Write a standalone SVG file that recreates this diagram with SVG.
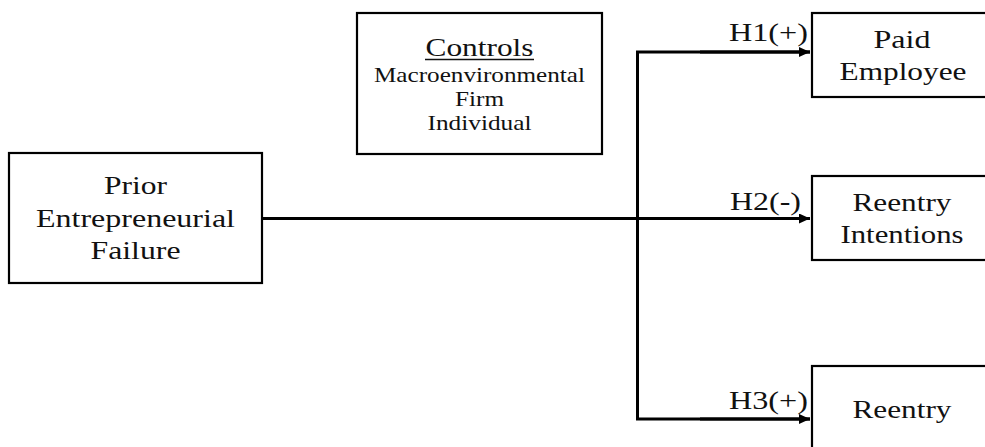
<svg xmlns="http://www.w3.org/2000/svg" width="985" height="447" viewBox="0 0 985 447">
<defs>
<style>
.box{fill:#fff;stroke:#000;stroke-width:2.2}
.t{font-family:"Liberation Serif","Times New Roman",serif;font-size:26px;fill:#111;text-anchor:middle}
.s{font-family:"Liberation Serif","Times New Roman",serif;font-size:21px;fill:#111;text-anchor:middle}
.h{font-family:"Liberation Serif","Times New Roman",serif;font-size:26px;fill:#111;text-anchor:end}
.c{fill:none;stroke:#000;stroke-width:3}
</style>
<marker id="ah" markerWidth="12" markerHeight="10" refX="11" refY="5" orient="auto" markerUnits="userSpaceOnUse">
<path d="M0,0 L11,5 L0,10 Z" fill="#000"/>
</marker>
</defs>
<rect width="985" height="447" fill="#fff"/>
<g id="connectors">
<path class="c" d="M262,218.5 H810" marker-end="url(#ah)"/>
<path class="c" d="M810,52 H637.5 V419 H810" stroke-linejoin="miter"/>
<path class="c" d="M700,52 H810" marker-end="url(#ah)"/>
<path class="c" d="M700,419 H810" marker-end="url(#ah)"/>
</g>
<g id="prior">
<rect class="box" x="9" y="153" width="253" height="130"/>
<text class="t" x="135.5" y="194" textLength="63" lengthAdjust="spacingAndGlyphs">Prior</text>
<text class="t" x="135.5" y="227" textLength="199" lengthAdjust="spacingAndGlyphs">Entrepreneurial</text>
<text class="t" x="135.5" y="259" textLength="90" lengthAdjust="spacingAndGlyphs">Failure</text>
</g>
<g id="controls">
<rect class="box" x="357" y="13" width="245" height="141"/>
<text class="t" x="479.5" y="56" textLength="108" lengthAdjust="spacingAndGlyphs">Controls</text>
<line x1="425" y1="59.5" x2="534" y2="59.5" stroke="#111" stroke-width="1.5"/>
<text class="s" x="479.5" y="82" textLength="211" lengthAdjust="spacingAndGlyphs">Macroenvironmental</text>
<text class="s" x="479.5" y="106" textLength="49" lengthAdjust="spacingAndGlyphs">Firm</text>
<text class="s" x="479.5" y="130" textLength="104" lengthAdjust="spacingAndGlyphs">Individual</text>
</g>
<g id="paid-employee">
<rect class="box" x="812" y="13" width="190" height="84"/>
<text class="t" x="902" y="48" textLength="57" lengthAdjust="spacingAndGlyphs">Paid</text>
<text class="t" x="903" y="80" textLength="127" lengthAdjust="spacingAndGlyphs">Employee</text>
</g>
<g id="reentry-intentions">
<rect class="box" x="812" y="176" width="190" height="84"/>
<text class="t" x="902" y="211" textLength="99" lengthAdjust="spacingAndGlyphs">Reentry</text>
<text class="t" x="902" y="243" textLength="123" lengthAdjust="spacingAndGlyphs">Intentions</text>
</g>
<g id="reentry">
<rect class="box" x="812" y="366" width="190" height="100"/>
<text class="t" x="902" y="418" textLength="99" lengthAdjust="spacingAndGlyphs">Reentry</text>
</g>
<g id="labels">
<text class="h" x="808" y="41" textLength="79" lengthAdjust="spacingAndGlyphs">H1(+)</text>
<text class="h" x="801" y="210" textLength="71" lengthAdjust="spacingAndGlyphs">H2(-)</text>
<text class="h" x="808" y="409" textLength="79" lengthAdjust="spacingAndGlyphs">H3(+)</text>
</g>
</svg>
